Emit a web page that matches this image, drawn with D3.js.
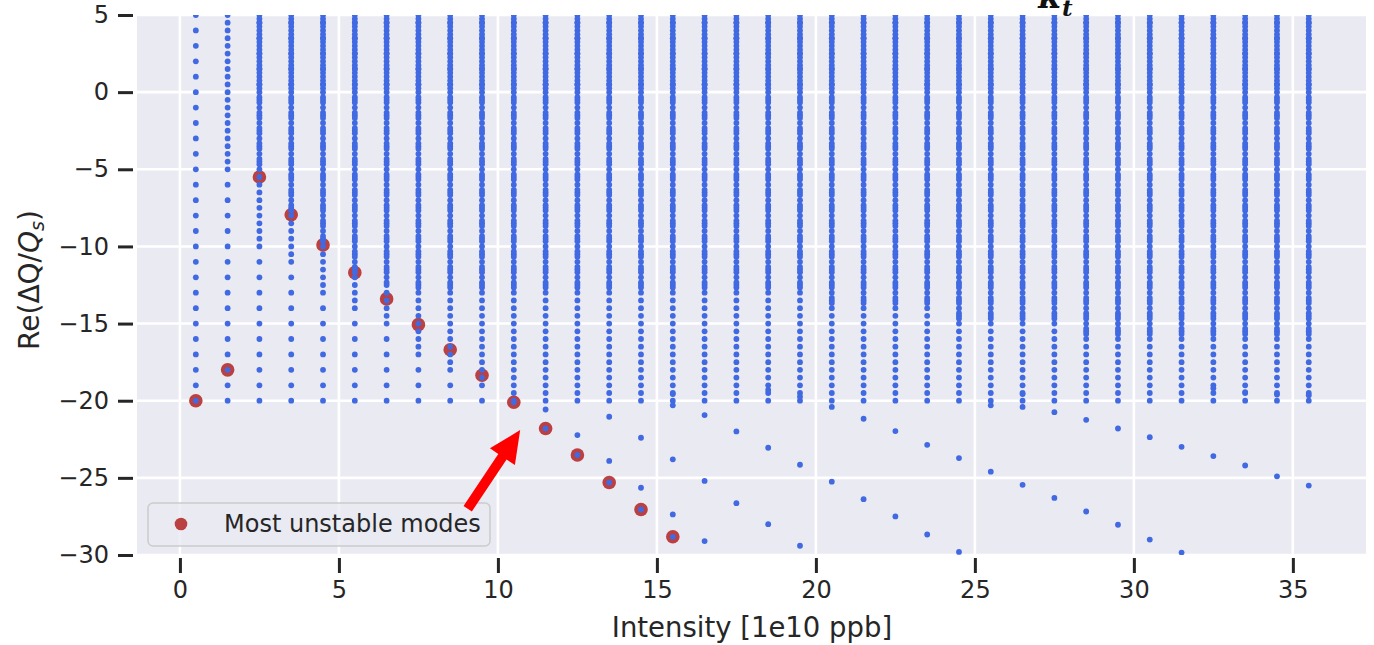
<!DOCTYPE html>
<html><head><meta charset="utf-8">
<script src="https://cdn.jsdelivr.net/npm/d3@7"></script>
<style>body{margin:0;background:#fff;} svg{display:block;font-family:"DejaVu Sans",sans-serif;}</style>
</head><body>
<svg id="c" width="1374" height="645"></svg>
<script>
// ---------- data ----------
const intensity = [0.5,1.5,2.5,3.5,4.5,5.5,6.5,7.5,8.5,9.5,10.5,11.5,12.5,13.5,14.5,15.5,16.5,17.5,18.5,19.5,20.5,21.5,22.5,23.5,24.5,25.5,26.5,27.5,28.5,29.5,30.5,31.5,32.5,33.5,34.5,35.5];
const xTicks = [0,5,10,15,20,25,30,35];
const yTicks = [5,0,-5,-10,-15,-20,-25,-30];
// most unstable mode per intensity (first 16 intensities)
const unstableRe = [-20.0,-18.0,-5.5,-7.95,-9.9,-11.7,-13.4,-15.07,-16.7,-18.35,-20.1,-21.8,-23.52,-25.3,-27.05,-28.82];
// azimuthal modes present at every intensity
const azimuthal = [-20,-19,-18,-17,-16,-15,-14,-13,-12,-11,-10,-9,-8,-7,-6,-5,-4,-3,-2,-1,0,1,2,3,4,5];
// radial-mode eigenvalues filling the spectrum
const halfSteps = [-19.5,-18.5,-17.5,-16.5,-15.5,-14.5,-13.5,-12.5,-11.5,-10.5,-9.5,-8.5,-7.5,-6.5,-5.5,-4.5,-3.5,-2.5,-1.5,-0.5,0.5,1.5,2.5,3.5,4.5];
const thirdSteps = [-19.67,-19.33,-18.67,-18.33,-17.67,-17.33,-16.67,-16.33,-15.67,-15.33,-14.67,-14.33,-13.67,-13.33,-12.67,-12.33,-11.67,-11.33,-10.67,-10.33,-9.67,-9.33,-8.67,-8.33,-7.67,-7.33,-6.67,-6.33,-5.67,-5.33,-4.67,-4.33,-3.67,-3.33,-2.67,-2.33,-1.67,-1.33,-0.67,-0.33];
const quarterSteps = [0.25,0.5,0.75,1.25,1.5,1.75,2.25,2.5,2.75,3.25,3.5,3.75,4.25,4.5,4.75];
// lowest Re value reached by each family of radial modes, per intensity
const halfFrom  = [99,-5,-10,-11,-13,-14,-15,-17,-18,-19,-20,-20,-20,-20,-20,-20,-20,-20,-20,-20,-20,-20,-20,-20,-20,-20,-20,-20,-20,-20,-20,-20,-20,-20,-20,-20];
const thirdFrom = [99,99,-5,-8,-10,-11.7,-12.5,-13,-13,-13,-13,-13,-13,-13,-13,-13,-13,-13,-13,-13,-14,-14,-14,-14,-15,-15,-15,-15,-16,-16,-16,-16,-16,-16,-16,-16];
// isolated eigenvalues (mostly below -20)
const extraModes = [
  [], [], [], [], [], [], [], [], [], [],
  [-20.1],
  [-20.57,-21.8],
  [-22.23,-23.52],
  [-21.04,-23.9,-25.3],
  [-22.4,-25.64,-27.05],
  [-19.57,-20.3,-23.8,-27.37,-28.82],
  [-20.93,-25.2,-29.1],
  [-21.99,-26.64],
  [-19.3,-23.05,-28.0],
  [-19.74,-24.15,-29.4],
  [-20.4,-25.25],
  [-21.17,-26.38],
  [-21.97,-27.5],
  [-22.86,-28.67],
  [-23.72,-29.8],
  [-20.3,-24.6],
  [-19.57,-20.4,-25.45],
  [-20.74,-26.3],
  [-21.24,-27.18],
  [-21.8,-28.04],
  [-22.36,-29.0],
  [-22.99,-29.84],
  [-19.2,-23.59],
  [-19.44,-24.2],
  [-19.6,-24.9],
  [-19.65,-25.5]
];

// ---------- layout ----------
const svg = d3.select("#c");
const L = 137, R = 1366, T = 15, B = 555;
const x = d3.scaleLinear().domain([-1.35, 37.3]).range([L, R]);
const y = d3.scaleLinear().domain([-30, 5]).range([B, T]);
const ink = "#262626";

svg.append("rect").attr("x", L).attr("y", T).attr("width", R - L).attr("height", B - T).attr("fill", "#eaeaf2");
svg.append("defs").append("clipPath").attr("id", "clip")
  .append("rect").attr("x", L).attr("y", T).attr("width", R - L).attr("height", B - T);

// grid
const grid = svg.append("g").attr("stroke", "#fff").attr("stroke-width", 2.6);
xTicks.forEach(t => grid.append("line").attr("x1", x(t)).attr("x2", x(t)).attr("y1", T).attr("y2", B));
yTicks.forEach(t => grid.append("line").attr("x1", L).attr("x2", R).attr("y1", y(t)).attr("y2", y(t)));

// axes (ticks + labels)
const xAxis = d3.axisBottom(x).tickValues(xTicks).tickSize(15).tickPadding(8).tickFormat(d3.format("d"));
const gx = svg.append("g").attr("transform", `translate(0,${B + 3})`).call(xAxis);
const yAxis = d3.axisLeft(y).tickValues(yTicks).tickSize(15).tickPadding(9).tickFormat(d => d < 0 ? "\u2212" + Math.abs(d) : d);
const gy = svg.append("g").attr("transform", `translate(${L - 4},0)`).call(yAxis);
[gx, gy].forEach(g => {
  g.select(".domain").remove();
  g.selectAll(".tick line").attr("stroke", ink).attr("stroke-width", 3);
  g.selectAll(".tick text").attr("fill", ink).style("font-size", "24px").style("font-family", "DejaVu Sans");
});

svg.append("text").attr("x", 752).attr("y", 637).attr("text-anchor", "middle")
  .attr("fill", ink).style("font-size", "27.5px").text("Intensity [1e10 ppb]");
const yl = svg.append("text").attr("transform", "translate(39,280) rotate(-90)").attr("text-anchor", "middle")
  .attr("fill", ink).style("font-size", "28px");
yl.append("tspan").text("Re(\u0394Q/");
yl.append("tspan").style("font-style", "italic").text("Q");
yl.append("tspan").style("font-style", "italic").style("font-size", "19px").attr("dy", 5).text("s");
yl.append("tspan").attr("dy", -5).text(")");

// points
const plot = svg.append("g").attr("clip-path", "url(#clip)");
const pts = [];
intensity.forEach((I, i) => {
  const vals = azimuthal.slice()
    .concat(halfSteps.filter(v => v >= halfFrom[i]))
    .concat(thirdSteps.filter(v => v >= thirdFrom[i]))
    .concat(thirdFrom[i] < 5 ? quarterSteps : [])
    .concat(extraModes[i]);
  vals.forEach(v => pts.push([I, v]));
});
const red = unstableRe.map((v, i) => [intensity[i], v]);
plot.append("g").selectAll("circle").data(red).join("circle")
  .attr("cx", d => x(d[0])).attr("cy", d => y(d[1])).attr("r", 6.8)
  .attr("fill", "#b22222").attr("fill-opacity", 0.85);
plot.append("g").selectAll("circle").data(pts).join("circle")
  .attr("cx", d => x(d[0])).attr("cy", d => y(d[1])).attr("r", 2.9)
  .attr("fill", "#4169e1");

// legend
const lg = svg.append("g");
lg.append("rect").attr("x", 148).attr("y", 503).attr("width", 342).attr("height", 43).attr("rx", 5)
  .attr("fill", "#eaeaf2").attr("fill-opacity", 0.8).attr("stroke", "#cccccc").attr("stroke-width", 1.5);
lg.append("circle").attr("cx", 181).attr("cy", 524).attr("r", 6.3).attr("fill", "#b22222").attr("fill-opacity", 0.85);
lg.append("text").attr("x", 224).attr("y", 532).attr("fill", ink).style("font-size", "24px").text("Most unstable modes");

// arrow annotation (drawn above the legend)
const tail = [x(9.05), y(-27.0)], tip = [x(10.7), y(-21.9)];
const dx = tip[0] - tail[0], dy = tip[1] - tail[1], len = Math.hypot(dx, dy);
const u = [dx / len, dy / len], n = [-u[1], u[0]];
const hw = 5, Hw = 15, Hl = 32;
const base = [tip[0] - u[0] * Hl, tip[1] - u[1] * Hl];
const poly = [
  [tail[0] + n[0] * hw, tail[1] + n[1] * hw],
  [base[0] + n[0] * hw, base[1] + n[1] * hw],
  [base[0] + n[0] * Hw, base[1] + n[1] * Hw],
  tip,
  [base[0] - n[0] * Hw, base[1] - n[1] * Hw],
  [base[0] - n[0] * hw, base[1] - n[1] * hw],
  [tail[0] - n[0] * hw, tail[1] - n[1] * hw]
];
svg.append("polygon").attr("points", poly.map(p => p.join(",")).join(" ")).attr("fill", "#ff0000");

// title fragment (cut off at the top, as in the source figure)
const tt = svg.append("text").attr("x", 1038).attr("y", 8).attr("fill", "#111")
  .style("font-family", "DejaVu Serif").style("font-weight", "bold").style("font-style", "italic").style("font-size", "32px");
tt.append("tspan").text("\u03ba");
tt.append("tspan").attr("dy", 8).style("font-size", "23px").text("t");
</script>
</body></html>
